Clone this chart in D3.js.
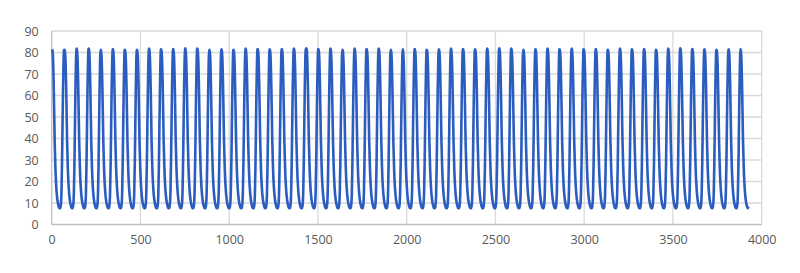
<!DOCTYPE html>
<html>
<head>
<meta charset="utf-8">
<script src="https://cdn.jsdelivr.net/npm/d3@7"></script>
<style>
  body { margin: 0; background: #fff; }
  .tick text { font-family: "Open Sans", sans-serif; font-size: 12.5px; fill: #595959; }
</style>
</head>
<body>
<svg id="chart" width="800" height="273"></svg>
<script>
// x position of each peak (sample index)
const peakX = [2, 72, 140, 208, 276, 344, 412, 480, 548, 616, 684, 752, 820, 888, 956,
  1024, 1092, 1160, 1228, 1296, 1364, 1434, 1502, 1570, 1638, 1706, 1774, 1842, 1910, 1977,
  2045, 2113, 2181, 2249, 2317, 2385, 2453, 2521, 2589, 2657, 2725, 2793, 2861, 2929, 2997,
  3065, 3133, 3201, 3269, 3337, 3405, 3473, 3541, 3609, 3677, 3745, 3813, 3880];

// peak height of each cycle
const peakY = [81.5, 81.3, 81.8, 81.8, 81.3, 81.6, 81.3, 81.3, 81.8, 81.5, 81.6, 81.9, 81.8, 81.3, 81.5,
  81.3, 81.8, 81.6, 81.5, 81.6, 81.8, 82.0, 81.6, 81.8, 81.3, 81.8, 81.6, 81.8, 81.3, 81.5,
  81.6, 81.3, 81.5, 81.8, 81.6, 81.5, 81.8, 82.0, 81.8, 81.3, 81.6, 81.8, 81.5, 81.8, 81.5,
  81.6, 81.3, 81.8, 81.5, 81.6, 81.3, 81.8, 81.9, 81.6, 81.5, 81.3, 81.5, 81.6];

// one cycle as [samples after the peak, value]
const cycleShape = [
  [0, 81.5], [3, 80.5], [6, 76], [9, 66], [12, 52], [15, 38], [19, 26], [24, 17],
  [30, 11.5], [36, 8.8], [42, 7.6], [46, 7.6], [50, 9.5], [53, 15], [56, 28],
  [59, 46], [62, 64], [65, 77], [67, 81]
];

const xTicks = [0, 500, 1000, 1500, 2000, 2500, 3000, 3500, 4000];
const yTicks = [0, 10, 20, 30, 40, 50, 60, 70, 80, 90];
const lastPoint = [3929, 7.5];

// build the points from the cycles
let points = [];
peakX.forEach((px, i) => {
  const next = i < peakX.length - 1 ? peakX[i + 1] : lastPoint[0];
  cycleShape.forEach(([dx, v]) => {
    const x = px + dx;
    if (x >= next) return;
    const y = v + (peakY[i] - 81.5) * (v - 7.5) / 74;
    points.push([x, y]);
  });
});
points.push(lastPoint);

const svg = d3.select("#chart");
const margin = { left: 51.7, right: 800 - 761.7, top: 31, bottom: 273 - 224.5 };
const w = 800 - margin.left - margin.right;
const h = 273 - margin.top - margin.bottom;

const x = d3.scaleLinear().domain([0, 4000]).range([0, w]);
const y = d3.scaleLinear().domain([0, 90]).range([h, 0]);

const g = svg.append("g").attr("transform", `translate(${margin.left},${margin.top})`);

// gridlines
g.append("g")
  .selectAll("line")
  .data(yTicks.slice(1))
  .enter()
  .append("line")
  .attr("x1", 0).attr("x2", w)
  .attr("y1", d => y(d)).attr("y2", d => y(d))
  .attr("stroke", "#d9d9d9").attr("stroke-width", 1.3);

g.append("g")
  .selectAll("line")
  .data(xTicks.slice(1))
  .enter()
  .append("line")
  .attr("y1", 0).attr("y2", h)
  .attr("x1", d => x(d)).attr("x2", d => x(d))
  .attr("stroke", "#d9d9d9").attr("stroke-width", 1.3);

// axis lines
g.append("line")
  .attr("x1", 0).attr("x2", w).attr("y1", h).attr("y2", h)
  .attr("stroke", "#bfbfbf").attr("stroke-width", 1.3);
g.append("line")
  .attr("x1", 0).attr("x2", 0).attr("y1", 0).attr("y2", h)
  .attr("stroke", "#bfbfbf").attr("stroke-width", 1.3);

// tick labels
const yAxis = g.append("g")
  .call(d3.axisLeft(y).tickValues(yTicks).tickSize(0).tickPadding(13));
yAxis.select(".domain").remove();

const xAxis = g.append("g")
  .attr("transform", `translate(0,${h})`)
  .call(d3.axisBottom(x).tickValues(xTicks).tickSize(0).tickPadding(11).tickFormat(d3.format("d")));
xAxis.select(".domain").remove();

// the series
const line = d3.line()
  .x(d => x(d[0]))
  .y(d => y(d[1]))
  .curve(d3.curveMonotoneX);

g.append("path")
  .datum(points)
  .attr("d", line)
  .attr("fill", "none")
  .attr("stroke", "#2b5cbf")
  .attr("stroke-width", 2.6)
  .attr("stroke-linejoin", "round");
</script>
</body>
</html>
